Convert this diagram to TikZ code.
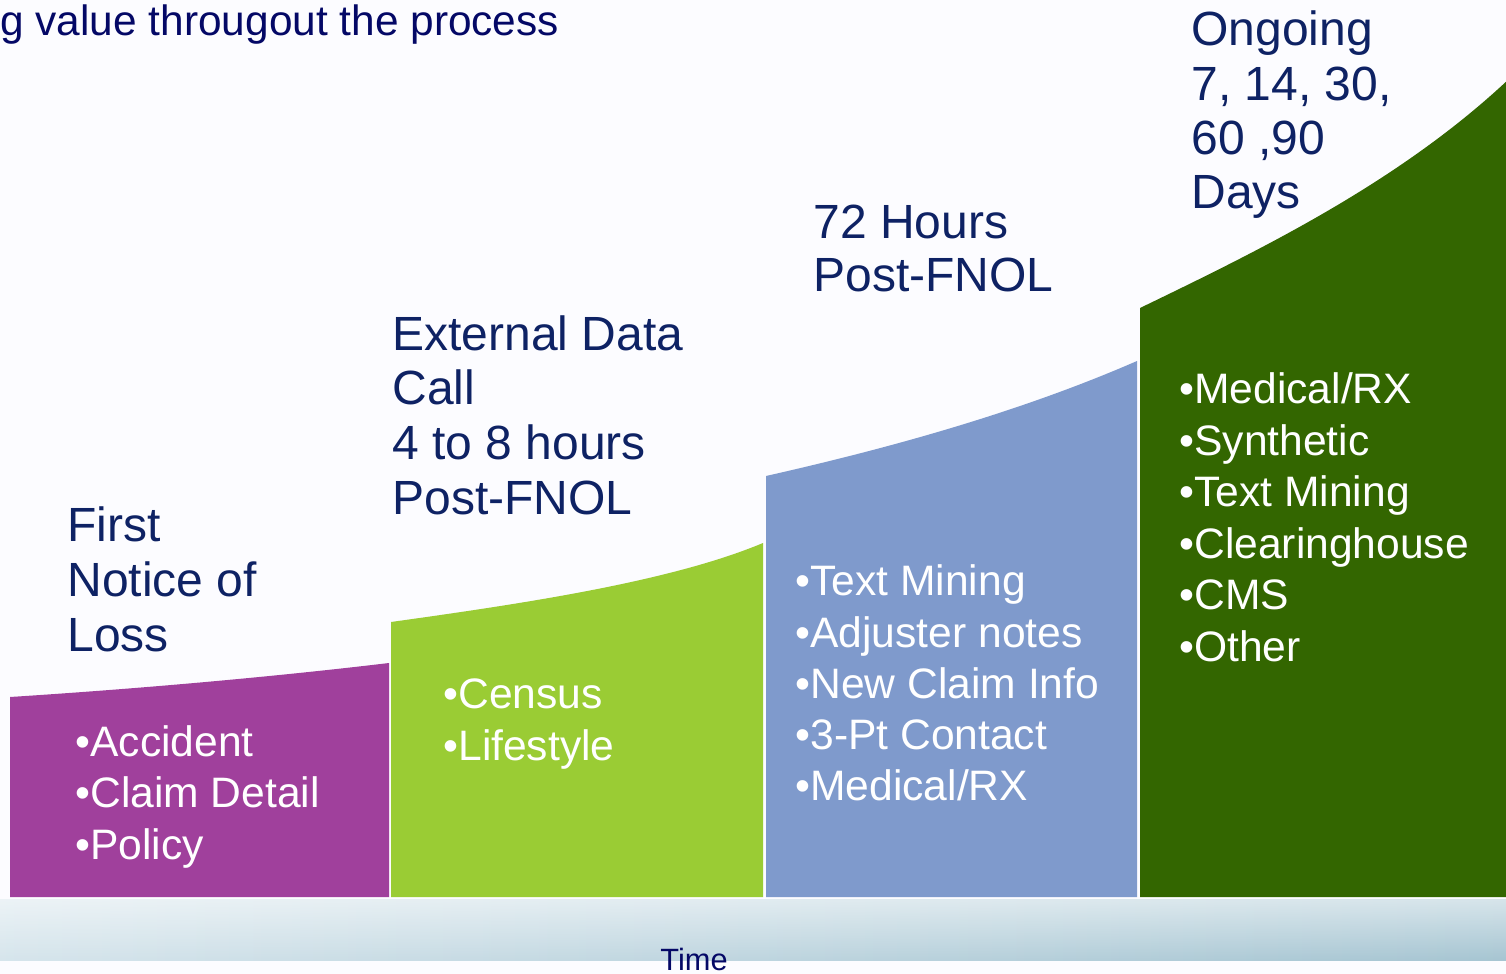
\documentclass[tikz,border=0pt]{standalone}
\usepackage{fontspec}
\setmainfont{Liberation Sans}
\usetikzlibrary{fadings}
\definecolor{bgc}{RGB}{252,252,255}
\definecolor{purp}{RGB}{160,64,156}
\definecolor{lgreen}{RGB}{154,204,52}
\definecolor{lblue}{RGB}{127,154,204}
\definecolor{dgreen}{RGB}{51,102,0}
\definecolor{navy}{RGB}{14,34,100}
\definecolor{topnavy}{RGB}{4,8,102}
\definecolor{bandl}{RGB}{214,229,236}
\definecolor{bandr}{RGB}{166,197,210}
\tikzset{
  hd/.style={anchor=base west, inner sep=0pt, text=navy, font=\fontsize{24}{28}\selectfont},
  bl/.style={anchor=base west, inner sep=0pt, text=white, font=\fontsize{21.3}{26}\selectfont}
}
\begin{document}
\begin{tikzpicture}[x=0.5pt,y=-0.5pt]
\useasboundingbox (0,0) rectangle (1506,974);
\clip (0,0) rectangle (1506,974);
\fill[bgc] (-10,-10) rectangle (1516,984);
% time band
\shade[left color=bandl, right color=bandr] (-10,899) rectangle (1516,960);
\fill[white, fill opacity=0.55, path fading=south] (-10,899) rectangle (1516,960);
% segments
\fill[purp] (10,897) -- (10,697) .. controls (150,688) and (280,676) .. (389,663) -- (389,897) -- cycle;
\fill[lgreen] (391,897) -- (391,622) .. controls (520,604) and (670,582) .. (763,543) -- (763,897) -- cycle;
\fill[lblue] (766,897) -- (766,476) .. controls (890,448) and (1020,412) .. (1137,361) -- (1137,897) -- cycle;
\fill[dgreen] (1140,897) -- (1140,308) .. controls (1260,250) and (1400,182) .. (1510,78) -- (1510,897) -- cycle;
% top text
\node[anchor=base west, inner sep=0pt, text=topnavy, font=\fontsize{21.2}{26}\selectfont] (title) at (0,36) {g value througout the process};
% headings
\node[hd] (h1a) at (67,541) {First};
\node[hd] (h1b) at (67,596) {Notice of};
\node[hd] (h1c) at (67,651) {Loss};
\node[hd] (h2a) at (392,350) {External Data};
\node[hd] (h2b) at (392,404) {Call};
\node[hd] (h2c) at (392,459) {4 to 8 hours};
\node[hd] (h2d) at (392,514) {Post-FNOL};
\node[hd] (h3a) at (813,238) {72 Hours};
\node[hd] (h3b) at (813,292) {Post-FNOL};
\node[hd] (h4a) at (1191,46) {Ongoing};
\node[hd] (h4b) at (1191,101) {7, 14, 30,};
\node[hd] (h4c) at (1191,155) {60 ,90};
\node[hd] (h4d) at (1191,208) {Days};
% bullets
\node[bl] (p1) at (75,756) {•Accident};
\node[bl] (p2) at (75,807) {•Claim Detail};
\node[bl] (p3) at (75,859) {•Policy};
\node[bl] (g1) at (443,708) {•Census};
\node[bl] (g2) at (443,760) {•Lifestyle};
\node[bl] (b1) at (795,595) {•Text Mining};
\node[bl] (b2) at (795,647) {•Adjuster notes};
\node[bl] (b3) at (795,698) {•New Claim Info};
\node[bl] (b4) at (795,749) {•3-Pt Contact};
\node[bl] (b5) at (795,800) {•Medical/RX};
\node[bl] (d1) at (1179,403) {•Medical/RX};
\node[bl] (d2) at (1179,455) {•Synthetic};
\node[bl] (d3) at (1179,506) {•Text Mining};
\node[bl] (d4) at (1179,558) {•Clearinghouse};
\node[bl] (d5) at (1179,609) {•CMS};
\node[bl] (d6) at (1179,661) {•Other};
% time label
\node[anchor=base west, inner sep=0pt, text=topnavy, font=\fontsize{15.4}{18}\selectfont] (time) at (660,970) {Time};
\end{tikzpicture}
\end{document}
